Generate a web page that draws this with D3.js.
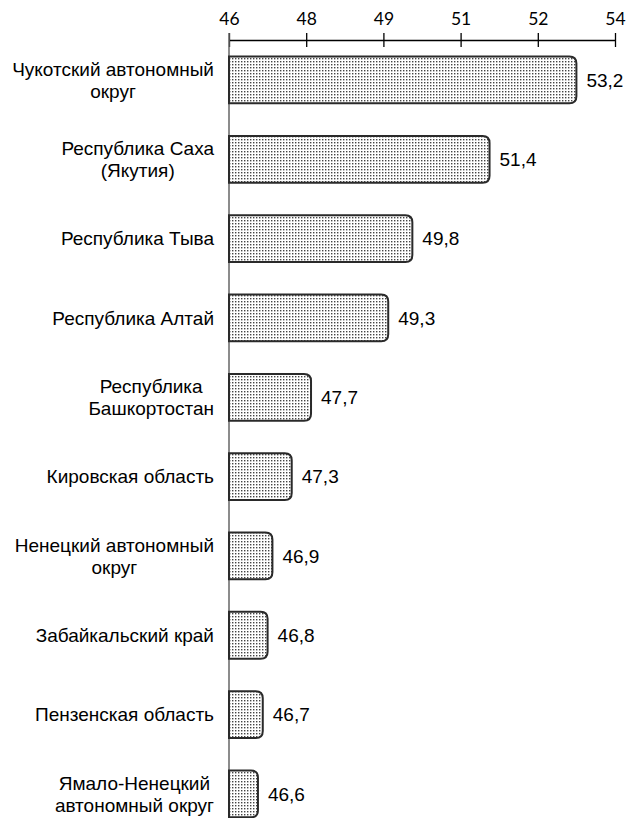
<!DOCTYPE html>
<meta charset="utf-8">
<script src="https://d3js.org/d3.v7.min.js"></script>
<style>
  body { margin: 0; background: #fff; }
</style>
<div id="chart"></div>
<script>
// data
var regions = [
  "Чукотский автономный\nокруг",
  "Республика Саха\n(Якутия)",
  "Республика Тыва",
  "Республика Алтай",
  "Республика\nБашкортостан",
  "Кировская область",
  "Ненецкий автономный\nокруг",
  "Забайкальский край",
  "Пензенская область",
  "Ямало-Ненецкий\nавтономный округ"
];
var values = [53.2, 51.4, 49.8, 49.3, 47.7, 47.3, 46.9, 46.8, 46.7, 46.6];
var tickValues = [46, 47.6, 49.2, 50.8, 52.4, 54];

var width = 629, height = 818;

var svg = d3.select("#chart").append("svg")
    .attr("width", width)
    .attr("height", height);

// dotted fill
var pat = svg.append("defs").append("pattern")
    .attr("id", "dots")
    .attr("patternUnits", "userSpaceOnUse")
    .attr("width", 3)
    .attr("height", 3);
pat.append("rect").attr("width", 3).attr("height", 3).attr("fill", "#fff");
pat.append("rect").attr("x", 1).attr("y", 1).attr("width", 1.4).attr("height", 1.4).attr("fill", "#444");

var x = d3.scaleLinear()
    .domain([46, 54])
    .range([229, 615]);

var y = d3.scaleBand()
    .domain(regions)
    .range([40.3, 833.6])
    .paddingInner(0.41)
    .paddingOuter(0.205);

// top axis
var axis = svg.append("g")
    .attr("transform", "translate(0,40)")
    .call(d3.axisTop(x).tickValues(tickValues).tickFormat(d3.format(".0f")).tickSize(7).tickSizeOuter(0));
axis.select(".domain").attr("stroke", "#000").attr("stroke-width", 1.3);
axis.selectAll(".tick line").attr("stroke", "#000").attr("stroke-width", 1.3).attr("y2", 7).attr("y1", -7);
axis.selectAll(".tick text")
    .attr("y", -15)
    .attr("fill", "#000")
    .style("font-family", "Lato, 'Open Sans', sans-serif")
    .style("font-size", "17.5px");

// vertical category axis line
svg.append("line")
    .attr("x1", x(46)).attr("x2", x(46))
    .attr("y1", 33).attr("y2", height)
    .attr("stroke", "#666")
    .attr("stroke-width", 1.5);

// bar path with rounded right corners
function barPath(x0, y0, w, h, r) {
  r = Math.min(r, w / 2, h / 2);
  return "M" + x0 + "," + y0 +
    "H" + (x0 + w - r) +
    "Q" + (x0 + w) + "," + y0 + " " + (x0 + w) + "," + (y0 + r) +
    "V" + (y0 + h - r) +
    "Q" + (x0 + w) + "," + (y0 + h) + " " + (x0 + w - r) + "," + (y0 + h) +
    "H" + x0 + "Z";
}

svg.append("g").selectAll("path")
  .data(regions)
  .join("path")
    .attr("d", function(d, i) {
      return barPath(x(46), y(d), x(values[i]) - x(46), y.bandwidth(), 7);
    })
    .attr("fill", "url(#dots)")
    .attr("stroke", "#2a2a2a")
    .attr("stroke-width", 2);

var font = "'Liberation Sans', Arial, sans-serif";

// value labels
svg.append("g").selectAll("text")
  .data(regions)
  .join("text")
    .attr("x", function(d, i) { return x(values[i]) + 10; })
    .attr("y", function(d) { return y(d) + y.bandwidth() / 2; })
    .attr("dy", "0.36em")
    .style("font-family", font)
    .style("font-size", "19px")
    .text(function(d, i) { return String(values[i]).replace(".", ","); });

// category labels: lines centred, block right-aligned
var labelRight = 214, lineH = 22;
regions.forEach(function(d) {
  var lines = d.split("\n");
  var g = svg.append("g");
  var cy = y(d) + y.bandwidth() / 2;
  var texts = lines.map(function(line, k) {
    return g.append("text")
      .attr("y", cy + (k - (lines.length - 1) / 2) * lineH)
      .attr("dy", "0.36em")
      .attr("text-anchor", "middle")
      .style("font-family", font)
      .style("font-size", "19px")
      .text(line);
  });
  var maxW = d3.max(texts, function(t) { return t.node().getComputedTextLength(); });
  texts.forEach(function(t) { t.attr("x", labelRight - maxW / 2); });
});
</script>
